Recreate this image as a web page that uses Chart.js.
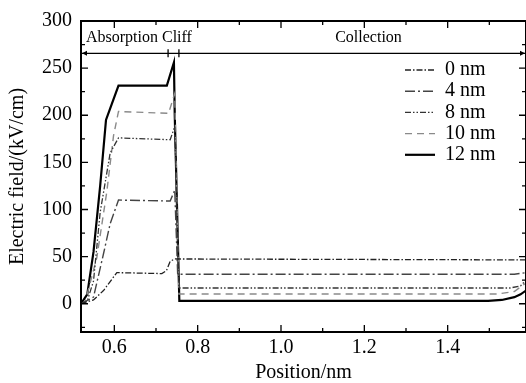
<!DOCTYPE html>
<html>
<head>
<meta charset="utf-8">
<script src="https://cdn.jsdelivr.net/npm/chart.js@4/dist/chart.umd.min.js"></script>
<style>
  html, body { margin: 0; padding: 0; background: #fff; }
</style>
</head>
<body>
<canvas id="grafico1" width="526" height="383"></canvas>
<script>
// Datos (posición en nm, campo en kV/cm)
var series = ['0 nm', '4 nm', '8 nm', '10 nm', '12 nm'];

var pos0 = [0.52, 0.55, 0.574, 0.606, 0.714, 0.725, 0.734, 0.745, 1.588];
var val0 = [0, 4, 14, 33, 32, 35, 45, 47.5, 46.5];

var pos4 = [0.52, 0.55, 0.574, 0.59, 0.61, 0.734, 0.745, 0.752, 1.56, 1.588];
var val4 = [0, 7, 53, 85, 110, 109, 120.5, 31.3, 31.3, 33];

var pos8 = [0.52, 0.535, 0.55, 0.566, 0.59, 0.61, 0.734, 0.745, 0.755, 1.55, 1.575, 1.588];
var val8 = [0, 3, 24, 97, 160, 176, 174, 188, 16.7, 16.7, 19, 25];

var pos10 = [0.52, 0.53, 0.558, 0.582, 0.598, 0.61, 0.73, 0.745, 0.755, 1.52, 1.56, 1.588];
var val10 = [0, 2, 49, 119, 178, 204, 202, 223, 10.4, 10.4, 13, 22];

var pos12 = [0.52, 0.535, 0.55, 0.566, 0.58, 0.594, 0.61, 0.726, 0.743, 0.745, 0.756, 1.497, 1.53, 1.56, 1.575, 1.588];
var val12 = [0, 10, 55, 125, 195, 212, 231.5, 231.5, 256, 200, 3, 3, 4, 7, 10, 14];

var xTicks = [0.6, 0.8, 1.0, 1.2, 1.4];
var xMinor = [0.7, 0.9, 1.1, 1.3, 1.5];
var yTicks = [0, 50, 100, 150, 200, 250, 300];
var yMinor = [-25, 25, 75, 125, 175, 225, 275];

var fuente = '"Liberation Serif", "Times New Roman", serif';

function puntos(xs, ys) {
    return xs.map(function (x, i) { return { x: x, y: ys[i] }; });
}

// Estilo de cada serie
var estilos = [
    { color: '#222', width: 1.3, dash: [6, 2, 1.5, 2] },
    { color: '#444', width: 1.4, dash: [10, 3, 2, 3] },
    { color: '#333', width: 1.3, dash: [6, 2, 1.5, 2, 1.5, 2] },
    { color: '#8a8a8a', width: 1.4, dash: [7, 5] },
    { color: '#000', width: 2.2, dash: [] }
];
var datos = [puntos(pos0, val0), puntos(pos4, val4), puntos(pos8, val8), puntos(pos10, val10), puntos(pos12, val12)];

// Marco, marcas hacia dentro, anotación superior y leyenda
var marcoPlugin = {
    id: 'marco',
    afterDatasetsDraw: function (chart) {
        var ctx = chart.ctx, a = chart.chartArea, xs = chart.scales.x, ys = chart.scales.y;
        ctx.save();
        ctx.strokeStyle = '#000';
        ctx.lineWidth = 2;
        ctx.strokeRect(a.left, a.top, a.right - a.left, a.bottom - a.top);

        ctx.lineWidth = 1.3;
        ctx.beginPath();
        function marcaX(v, len) {
            var px = xs.getPixelForValue(v);
            ctx.moveTo(px, a.bottom); ctx.lineTo(px, a.bottom - len);
            ctx.moveTo(px, a.top); ctx.lineTo(px, a.top + len);
        }
        function marcaY(v, len) {
            var py = ys.getPixelForValue(v);
            ctx.moveTo(a.left, py); ctx.lineTo(a.left + len, py);
            ctx.moveTo(a.right, py); ctx.lineTo(a.right - len, py);
        }
        xTicks.forEach(function (v) { marcaX(v, 7); });
        xMinor.forEach(function (v) { marcaX(v, 4); });
        yTicks.forEach(function (v) { marcaY(v, 7); });
        yMinor.forEach(function (v) { marcaY(v, 4); });
        ctx.stroke();

        // flecha de regiones
        var yFl = ys.getPixelForValue(265.7);
        ctx.lineWidth = 1.3;
        ctx.beginPath();
        ctx.moveTo(a.left + 1, yFl); ctx.lineTo(a.right - 1, yFl);
        [0.729, 0.755].forEach(function (v) {
            var px = xs.getPixelForValue(v);
            ctx.moveTo(px, yFl - 4); ctx.lineTo(px, yFl + 4);
        });
        ctx.stroke();
        ctx.fillStyle = '#000';
        ctx.beginPath();
        ctx.moveTo(a.left + 1, yFl); ctx.lineTo(a.left + 6, yFl - 2.5); ctx.lineTo(a.left + 6, yFl + 2.5); ctx.closePath();
        ctx.moveTo(a.right - 1, yFl); ctx.lineTo(a.right - 6, yFl - 2.5); ctx.lineTo(a.right - 6, yFl + 2.5); ctx.closePath();
        ctx.fill();

        ctx.font = '16px ' + fuente;
        ctx.textBaseline = 'middle';
        ctx.textAlign = 'left';
        var yTxt = ys.getPixelForValue(282);
        ctx.fillText('Absorption Cliff', a.left + 5, yTxt);
        ctx.fillText('Collection', xs.getPixelForValue(1.13), yTxt);

        // leyenda
        ctx.font = '20px ' + fuente;
        chart.data.datasets.forEach(function (ds, i) {
            var yy = 70 + i * 21.2;
            ctx.strokeStyle = ds.borderColor;
            ctx.lineWidth = ds.borderWidth;
            ctx.setLineDash(ds.borderDash);
            ctx.beginPath();
            ctx.moveTo(405, yy); ctx.lineTo(435, yy);
            ctx.stroke();
            ctx.setLineDash([]);
            ctx.fillStyle = '#000';
            ctx.fillText(ds.label, 445, yy);
        });
        ctx.restore();
    }
};

var ctx = document.getElementById('grafico1').getContext('2d');
var grafico1 = new Chart(ctx, {
    type: 'line',
    data: {
        datasets: series.map(function (s, i) {
            return {
                label: s,
                data: datos[i],
                borderColor: estilos[i].color,
                borderWidth: estilos[i].width,
                borderDash: estilos[i].dash,
                pointRadius: 0,
                tension: 0,
                fill: false
            };
        })
    },
    options: {
        responsive: false,
        animation: false,
        layout: { padding: { top: 16, right: 0, left: 0, bottom: 0 } },
        plugins: { legend: { display: false }, tooltip: { enabled: false } },
        scales: {
            x: {
                type: 'linear',
                min: 0.52,
                max: 1.588,
                grid: { display: false, drawTicks: false },
                border: { display: false },
                afterBuildTicks: function (scale) {
                    scale.ticks = xTicks.map(function (v) { return { value: v }; });
                },
                afterFit: function (scale) { scale.height = 51; },
                ticks: {
                    color: '#000',
                    padding: 4,
                    maxRotation: 0,
                    font: { family: fuente, size: 20 },
                    callback: function (v) { return Number(v).toFixed(1); }
                },
                title: {
                    display: true,
                    text: 'Position/nm',
                    color: '#000',
                    padding: { top: 0, bottom: 0 },
                    font: { family: fuente, size: 20, lineHeight: 1 }
                }
            },
            y: {
                min: -30,
                max: 300,
                grid: { display: false, drawTicks: false },
                border: { display: false },
                afterBuildTicks: function (scale) {
                    scale.ticks = yTicks.map(function (v) { return { value: v }; });
                },
                afterFit: function (scale) { scale.width = 81; },
                ticks: {
                    color: '#000',
                    padding: 9,
                    font: { family: fuente, size: 20 }
                },
                title: {
                    display: true,
                    text: 'Electric field/(kV/cm)',
                    color: '#000',
                    padding: { top: 6, bottom: 0 },
                    font: { family: fuente, size: 20 }
                }
            }
        }
    },
    plugins: [marcoPlugin]
});
</script>
</body>
</html>
